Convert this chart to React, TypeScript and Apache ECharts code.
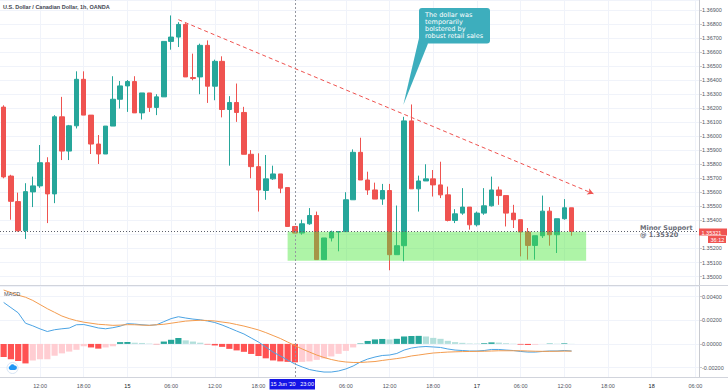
import React, { useEffect, useRef } from 'react';
import * as echarts from 'echarts';

const FONT = '"Liberation Sans", Arial, sans-serif';

// hourly categories starting 14 Jun 07:00
const categories: string[] = Array.from({ length: 96 }, (_, i) => {
  const t = 7 + i;
  const day = 14 + Math.floor(t / 24);
  const h = t % 24;
  return h === 0 ? String(day) : `${String(h).padStart(2, '0')}:00`;
});

const opens = [1.36207,1.35716,1.35534,1.35327,1.35603,1.35646,1.35811,1.35589,1.36138,1.35894,1.36074,1.36405,1.3615,1.35944,1.35873,1.36072,1.36263,1.36358,1.36389,1.36166,1.36308,1.36205,1.3628,1.36675,1.36706,1.36796,1.36418,1.36422,1.36647,1.36356,1.36533,1.3619,1.3624,1.36169,1.35871,1.35783,1.35613,1.35696,1.35731,1.35634,1.35357,1.3531,1.35376,1.35435,1.35121,1.35275,1.35317,1.3532,1.35547,1.35885,1.35688,1.35617,1.35552,1.35613,1.35156,1.3522,1.36109,1.35625,1.35681,1.35696,1.35653,1.35582,1.354,1.35452,1.35495,1.35369,1.35452,1.35504,1.35617,1.35577,1.35452,1.35405,1.35317,1.35222,1.35291,1.35466,1.35298,1.35412,1.3549];
const highs = [1.3622,1.35725,1.35598,1.35665,1.35712,1.35937,1.3585,1.3615,1.3628,1.3608,1.36462,1.36462,1.3615,1.36008,1.36072,1.36427,1.36393,1.364,1.36427,1.36308,1.36308,1.36299,1.36675,1.3686,1.36812,1.36805,1.36588,1.36659,1.36682,1.36545,1.36569,1.36285,1.36375,1.36209,1.35901,1.35878,1.35866,1.3579,1.35731,1.35634,1.35357,1.35405,1.35488,1.35463,1.35275,1.35327,1.35322,1.35601,1.35906,1.35989,1.35747,1.35669,1.3566,1.3566,1.35506,1.36138,1.36226,1.35719,1.358,1.35759,1.35818,1.35641,1.3548,1.3563,1.35495,1.35463,1.3563,1.35712,1.35641,1.35577,1.35511,1.35405,1.35346,1.35291,1.35577,1.35495,1.35412,1.35552,1.3549];
const lows = [1.357,1.35405,1.3532,1.35268,1.35495,1.35632,1.35381,1.35523,1.3583,1.3583,1.36055,1.3615,1.35873,1.35802,1.35873,1.36072,1.36197,1.36173,1.36166,1.36119,1.36173,1.3615,1.3628,1.36616,1.36635,1.36422,1.36398,1.36299,1.36237,1.36256,1.36134,1.3579,1.36102,1.35871,1.357,1.35463,1.35547,1.35689,1.35594,1.35357,1.3531,1.35298,1.35369,1.35121,1.35121,1.3525,1.3518,1.3532,1.35547,1.35688,1.35582,1.35552,1.35511,1.35045,1.35156,1.35109,1.35625,1.35463,1.35681,1.3557,1.35559,1.35393,1.35381,1.3544,1.35334,1.35357,1.3544,1.35499,1.35511,1.35357,1.35346,1.35144,1.35121,1.35121,1.35275,1.3522,1.35168,1.35405,1.35291];
const closes = [1.3571,1.35536,1.35327,1.35605,1.35646,1.35811,1.35589,1.36138,1.35894,1.36074,1.36405,1.3615,1.35944,1.35873,1.36072,1.36263,1.36358,1.36389,1.36166,1.36308,1.36205,1.3628,1.36675,1.36706,1.36796,1.36422,1.36411,1.36647,1.36356,1.36533,1.3619,1.3624,1.36169,1.35871,1.35783,1.35617,1.35696,1.35731,1.3563,1.35357,1.3531,1.35376,1.35435,1.35121,1.35275,1.35317,1.3532,1.35547,1.35885,1.35688,1.35617,1.35552,1.35613,1.35156,1.3522,1.36109,1.35625,1.35681,1.35696,1.35653,1.35582,1.354,1.35447,1.35495,1.35369,1.35452,1.35504,1.35617,1.35577,1.35452,1.35405,1.35317,1.35222,1.35291,1.35466,1.35298,1.35412,1.3549,1.35321];

const macdLine = [0.00351,0.00307,0.00263,0.00175,0.00153,0.00127,0.00105,0.0012,0.00128,0.00134,0.00162,0.00164,0.0015,0.00135,0.00128,0.00137,0.0015,0.00171,0.00168,0.00162,0.00157,0.00162,0.00188,0.00214,0.0023,0.00219,0.0021,0.00204,0.00194,0.00181,0.0016,0.00135,0.00109,0.00084,0.0005,0.00016,-0.00026,-0.00069,-0.00102,-0.00136,-0.0017,-0.00195,-0.00217,-0.00229,-0.00238,-0.00238,-0.00229,-0.00212,-0.00187,-0.00153,-0.00128,-0.00111,-0.00098,-0.00094,-0.00081,-0.00052,-0.00035,-0.00026,-0.00022,-0.00026,-0.0003,-0.00043,-0.00052,-0.00056,-0.0006,-0.0006,-0.00056,-0.00047,-0.00047,-0.00052,-0.00056,-0.00064,-0.00069,-0.00069,-0.00064,-0.0006,-0.0006,-0.00056,-0.0006];
const signalLine = [0.00456,0.00434,0.00412,0.00395,0.00368,0.00333,0.00298,0.00267,0.00236,0.00214,0.00197,0.00184,0.00175,0.00166,0.00162,0.00157,0.00159,0.00163,0.00162,0.00159,0.00157,0.00162,0.00166,0.00175,0.00184,0.00193,0.00197,0.002,0.00198,0.00194,0.00185,0.00177,0.00164,0.00151,0.00135,0.00118,0.00096,0.00071,0.00046,0.00016,-0.00014,-0.00043,-0.00069,-0.00094,-0.00115,-0.00132,-0.00145,-0.00153,-0.00157,-0.00157,-0.00153,-0.00149,-0.0014,-0.00132,-0.00124,-0.00115,-0.00102,-0.00094,-0.00085,-0.00077,-0.00073,-0.00069,-0.00067,-0.00065,-0.00064,-0.00063,-0.00062,-0.0006,-0.00058,-0.00058,-0.00058,-0.00058,-0.0006,-0.00062,-0.00063,-0.00063,-0.00062,-0.00061,-0.00061];
const histogram = [-0.0011,-0.0013,-0.00145,-0.00165,-0.0014,-0.0013,-0.0013,-0.001,-0.0008,-0.00065,-0.0005,-0.0002,-0.0003,-0.0004,-0.0003,-0.0002,0.00015,0.00016,0.0001,0.00008,0.00003,-0.00003,0.0002,0.00035,0.0005,0.0003,0.0002,0.0001,-0.00004,-0.00013,-0.00025,-0.00042,-0.00055,-0.00067,-0.00085,-0.00102,-0.00122,-0.0014,-0.00148,-0.00152,-0.00156,-0.00152,-0.00148,-0.00135,-0.00123,-0.00106,-0.00084,-0.00059,-0.0003,0.00004,0.00025,0.00038,0.00042,0.00038,0.00043,0.00063,0.00067,0.00068,0.00063,0.00051,0.00043,0.00026,0.00015,0.00009,0.00004,0.00003,0.00006,0.00013,0.00011,0.00006,0.00002,-0.00006,-0.00009,-0.00007,-0.00001,0.00003,0.00002,0.00005,0.00001];

const lastPrice = 1.35321;
const crosshairIndex = 40;
const trendStart: [number, number] = [24, 1.3683];
const trendEnd: [number, number] = [81, 1.3559];
const supportBox = { from: 39, to: 80, top: 1.3532, bottom: 1.35113 };

const candleData = opens.map((o, i) => [o, closes[i], lows[i], highs[i]]);
const labelShown = (i: number) => i % 6 === 5 && i !== 41;
const labelIndices = categories.map((_, i) => i).filter(labelShown);

const histColor = (v: number, prev?: number) =>
  v >= 0
    ? prev === undefined || v > prev ? '#26a69a' : '#b2dfdb'
    : prev === undefined || v < prev ? '#ff5252' : '#ffcdd2';

export default function App() {
  const ref = useRef<HTMLDivElement>(null);
  useEffect(() => {
    document.body.style.margin = '0';
    if (!ref.current) return;
    try {
      echarts.graphic.registerShape(
        'cloudIcon',
        echarts.graphic.extendPath('M2.5 8 A2.5 2.5 0 0 1 2 3.1 A3 3 0 0 1 7.6 2.5 A2.3 2.3 0 0 1 8 8 Z', {})
      );
    } catch (e) {}
    const chart = echarts.init(ref.current, undefined, { renderer: 'svg' });
    const gridLineStyle = { color: '#f0f3fa', width: 1 };
    const priceLabel = (v: number) => (Math.abs(v - 1.353) < 1e-7 ? '' : v.toFixed(5));
    const option: any = {
      animation: false,
      backgroundColor: '#ffffff',
      textStyle: { fontFamily: FONT },
      grid: [
        { left: -6, right: 29, top: 0, height: 285 },
        { left: -6, right: 29, top: 286, height: 91 },
      ],
      xAxis: [
        {
          type: 'category', gridIndex: 0, data: categories, boundaryGap: true,
          axisLine: { show: false }, axisTick: { show: false }, axisLabel: { show: false }, splitLine: { show: false },
        },
        {
          type: 'category', gridIndex: 1, data: categories, boundaryGap: true,
          axisLine: { show: false }, axisTick: { show: false }, splitLine: { show: false },
          axisLabel: {
            interval: (i: number) => labelShown(i),
            fontSize: 5.5, color: '#50535e', margin: 5.5, fontFamily: FONT,
            formatter: (v: string) => (v.length <= 2 ? `{d|${v}}` : v),
            rich: { d: { fontSize: 5.5, color: '#131722', fontFamily: FONT } },
          },
        },
      ],
      yAxis: [
        {
          type: 'value', gridIndex: 0, position: 'right', min: 1.3494, max: 1.3697, splitNumber: 20,
          axisLine: { show: true, lineStyle: { color: '#c8cad0' } },
          axisTick: { show: true, length: 3, lineStyle: { color: '#c8cad0' } },
          axisLabel: { fontSize: 5.5, color: '#50535e', margin: 3, fontFamily: FONT, showMinLabel: false, showMaxLabel: false, formatter: priceLabel },
          splitLine: { show: true, lineStyle: gridLineStyle },
        },
        {
          type: 'value', gridIndex: 1, position: 'right', min: -0.0028, max: 0.0049, splitNumber: 4,
          axisLine: { show: true, lineStyle: { color: '#c8cad0' } },
          axisTick: { show: true, length: 3, lineStyle: { color: '#c8cad0' } },
          axisLabel: { fontSize: 5.5, color: '#50535e', margin: 3, fontFamily: FONT, showMinLabel: false, showMaxLabel: false, formatter: (v: number) => v.toFixed(5) },
          splitLine: { show: true, lineStyle: gridLineStyle },
        },
      ],
      series: [
        {
          type: 'line', xAxisIndex: 0, yAxisIndex: 0, data: [], silent: true,
          markLine: { z: 1, silent: true, symbol: 'none', label: { show: false }, lineStyle: { ...gridLineStyle, type: 'solid' }, data: labelIndices.map((i) => ({ xAxis: i })) },
        },
        {
          type: 'line', xAxisIndex: 1, yAxisIndex: 1, data: [], silent: true,
          markLine: { z: 1, silent: true, symbol: 'none', label: { show: false }, lineStyle: { ...gridLineStyle, type: 'solid' }, data: labelIndices.map((i) => ({ xAxis: i })) },
        },
        {
          type: 'candlestick', xAxisIndex: 0, yAxisIndex: 0, data: candleData, barWidth: 5, z: 2,
          itemStyle: { color: '#26a69a', color0: '#ef5350', borderColor: '#26a69a', borderColor0: '#ef5350', borderWidth: 1 },
          markLine: {
            z: 6, silent: true, symbol: 'none', precision: 5, label: { show: false },
            data: [
              { xAxis: crosshairIndex, lineStyle: { type: [2, 2], color: '#9598a1', width: 1 } },
              [
                { coord: trendStart, symbol: 'none', lineStyle: { type: [4, 3], color: '#ef5350', width: 1 } },
                { coord: trendEnd, symbol: 'arrow', symbolSize: [5, 6] },
              ],
            ],
          },
        },
        {
          type: 'line', xAxisIndex: 0, yAxisIndex: 0, data: [], silent: true,
          markArea: {
            z: 3, silent: true,
            itemStyle: { color: 'rgba(76,230,60,0.45)' },
            data: [[{ xAxis: supportBox.from, yAxis: supportBox.top }, { xAxis: supportBox.to, yAxis: supportBox.bottom }]],
          },
          markLine: {
            z: 6, silent: true, symbol: 'none', precision: 5, label: { show: false },
            data: [{ yAxis: lastPrice, lineStyle: { type: [1, 2], color: '#5d606b', width: 1 } }],
          },
        },
        {
          type: 'bar', xAxisIndex: 1, yAxisIndex: 1, barWidth: '85%', z: 2,
          data: histogram.map((v, i) => ({ value: v, itemStyle: { color: histColor(v, i > 0 ? histogram[i - 1] : undefined) } })),
          markLine: { z: 6, silent: true, symbol: 'none', label: { show: false }, data: [{ xAxis: crosshairIndex, lineStyle: { type: [2, 2], color: '#9598a1', width: 1 } }] },
        },
        { type: 'line', xAxisIndex: 1, yAxisIndex: 1, data: macdLine, symbol: 'none', z: 3, lineStyle: { color: '#4ba3e3', width: 1 } },
        { type: 'line', xAxisIndex: 1, yAxisIndex: 1, data: signalLine, symbol: 'none', z: 3, lineStyle: { color: '#f39c4f', width: 1 } },
      ],
      graphic: [
        { type: 'line', z: 50, shape: { x1: 0, y1: 285.5, x2: 728, y2: 285.5 }, style: { stroke: '#d1d4dc', lineWidth: 1 } },
        { type: 'line', z: 50, shape: { x1: 0, y1: 377.5, x2: 728, y2: 377.5 }, style: { stroke: '#d1d4dc', lineWidth: 1 } },
        { type: 'text', z: 60, x: 3, y: 4, style: { text: 'U.S. Dollar / Canadian Dollar, 1h, OANDA', fontSize: 5.5, fontWeight: 'bold', fill: '#434651', fontFamily: FONT } },
        { type: 'text', z: 60, x: 4, y: 291, style: { text: 'MACD', fontSize: 5.5, fill: '#50535e', fontFamily: FONT } },
        { type: 'circle', z: 60, shape: { cx: 12.5, cy: 368, r: 5.5 }, style: { fill: '#ffffff', stroke: '#d6e4f5', lineWidth: 1 } },
        { type: 'cloudIcon', z: 61, x: 8.5, y: 363.5, scaleX: 0.8, scaleY: 0.8, style: { fill: '#2196f3' } },
        // callout
        { type: 'polygon', z: 60, shape: { points: [[419.5, 36], [428, 43.5], [403.3, 105]] }, style: { fill: '#3daebd' } },
        { type: 'rect', z: 60, shape: { x: 419, y: 8, width: 71, height: 35.5, r: 3 }, style: { fill: '#3daebd' } },
        { type: 'text', z: 61, x: 425, y: 12, style: { text: 'The dollar was\ntemporarily\nbolstered by\nrobust retail sales', fontSize: 6.5, lineHeight: 6.8, fill: '#ffffff', fontFamily: '"DejaVu Sans", sans-serif' } },
        // minor support
        { type: 'text', z: 60, x: 640, y: 224.5, style: { text: 'Minor Support\n@ 1.35320', fontSize: 6.5, lineHeight: 7, fontWeight: 'bold', fill: '#6a6d78', fontFamily: '"DejaVu Sans", sans-serif' } },
        // last price labels
        { type: 'rect', z: 60, shape: { x: 699, y: 228.5, width: 28, height: 7 }, style: { fill: '#ef5350' } },
        { type: 'text', z: 61, x: 701.5, y: 229.5, style: { text: '1.35321', fontSize: 5.5, fill: '#ffffff', fontFamily: FONT } },
        { type: 'rect', z: 60, shape: { x: 708, y: 236, width: 18, height: 7 }, style: { fill: '#ef5350' } },
        { type: 'text', z: 61, x: 710.5, y: 237, style: { text: '36:12', fontSize: 5.5, fill: '#ffffff', fontFamily: FONT } },
        // crosshair time label
        { type: 'rect', z: 60, shape: { x: 269.5, y: 379, width: 45.5, height: 10.5 }, style: { fill: '#1414e6' } },
        { type: 'text', z: 61, x: 292.2, y: 384.3, style: { text: "15 Jun '20   23:00", fontSize: 5.5, fill: '#ffffff', align: 'center', verticalAlign: 'middle', fontFamily: FONT } },
      ],
    };
    chart.setOption(option);
    return () => chart.dispose();
  }, []);
  return <div ref={ref} style={{ width: 728, height: 391 }} />;
}
